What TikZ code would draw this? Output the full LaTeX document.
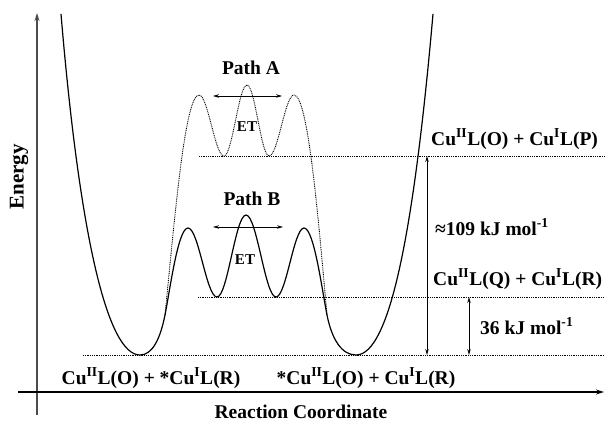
\documentclass[tikz,border=0pt]{standalone}
\usepackage{fontspec}
\setmainfont{Liberation Serif}
\usetikzlibrary{arrows.meta}
\begin{document}
\begin{tikzpicture}[x=1pt,y=-1pt,
  lbl/.style={font=\fontsize{19.5}{22}\selectfont\bfseries, inner sep=0pt},
  etlbl/.style={font=\fontsize{15}{17}\selectfont\bfseries, inner sep=0pt},
  curve/.style={line width=1.2pt, line join=round},
  dotcurve/.style={line width=0.9pt, dash pattern=on 0.9pt off 0.9pt},
  level/.style={line width=0.9pt, dash pattern=on 0.9pt off 0.9pt},
  axis/.style={line width=1.1pt, -{Stealth[length=8pt,width=5pt]}},
  dimarrow/.style={line width=0.8pt, {Stealth[length=6pt,width=3.5pt]}-{Stealth[length=6pt,width=3.5pt]}},
]
\useasboundingbox (0,0) rectangle (605,422);

% axes
\coordinate (ybot) at (37,415);
\coordinate (ytop) at (37,13);
\coordinate (xl) at (18,392);
\coordinate (xr) at (604,392);
\draw[axis, black!70] (ybot) -- (ytop);
\draw[axis] (xl) -- (xr);
\node[lbl, font=\fontsize{21}{23}\selectfont\bfseries, rotate=90] (energy) at (19,177) {Energy};
\node[lbl] (rc) at (301,412) {Reaction Coordinate};

% energy levels
\coordinate (lP0) at (199,156); \coordinate (lP1) at (605,156);
\coordinate (lQ0) at (198,297); \coordinate (lQ1) at (605,297);
\coordinate (lO0) at (83,355);  \coordinate (lO1) at (605,355);
\draw[level] (lP0) -- (lP1);
\draw[level] (lQ0) -- (lQ1);
\draw[level] (lO0) -- (lO1);

% solid potential curve (wells + path B)
\draw[curve] (61,14) .. controls (80,240) and (108,355) .. (140,355)
  .. controls (152,355) and (160,340) .. (165,315)
  .. controls (170,290) and (178,228) .. (188,228)
  .. controls (198.6,228) and (206.4,297) .. (217,297)
  .. controls (227.6,297) and (235.4,215) .. (246,215)
  .. controls (256.9,215) and (265.1,297) .. (276,297)
  .. controls (286.2,297) and (293.8,228) .. (304,228)
  .. controls (314,228) and (322,290) .. (327,315)
  .. controls (332,340) and (342,355) .. (356,355)
  .. controls (390,355) and (414,230) .. (433,14);

% dotted path A
\draw[dotcurve] (165,315) .. controls (175,215) and (185,95) .. (199,95)
  .. controls (208.1,95) and (214.9,156) .. (224,156)
  .. controls (232.4,156) and (238.6,85) .. (247,85)
  .. controls (255,85) and (261,156) .. (269,156)
  .. controls (278.1,156) and (284.9,95) .. (294,95)
  .. controls (308,95) and (318,215) .. (327,315);

% ET arrows
\coordinate (a1) at (213,96); \coordinate (a2) at (282,96);
\coordinate (b1) at (213,227); \coordinate (b2) at (283,227);
\draw[dimarrow] (a1) -- (a2);
\draw[dimarrow] (b1) -- (b2);
\node[lbl] (pathA) at (251,68) {Path A};
\node[lbl] (pathB) at (252,199) {Path B};
\node[etlbl] (etA) at (247,127) {ET};
\node[etlbl] (etB) at (245,260) {ET};

% energy gap arrows
\coordinate (g1t) at (427,156); \coordinate (g1b) at (427,355);
\coordinate (g2t) at (469,297); \coordinate (g2b) at (469,355);
\draw[dimarrow] (g1t) -- (g1b);
\draw[dimarrow] (g2t) -- (g2b);

% state labels
\node[lbl, anchor=west] (sP) at (431,139) {Cu\textsuperscript{II}L(O) + Cu\textsuperscript{I}L(P)};
\node[lbl, anchor=west] (e109) at (435,227) {≈109 kJ mol\textsuperscript{-1}};
\node[lbl, anchor=west] (sQ) at (433,279) {Cu\textsuperscript{II}L(Q) + Cu\textsuperscript{I}L(R)};
\node[lbl, anchor=west] (e36) at (480,326) {36 kJ mol\textsuperscript{-1}};
\node[lbl] (sL) at (151,378) {Cu\textsuperscript{II}L(O) + *Cu\textsuperscript{I}L(R)};
\node[lbl] (sR) at (366,378) {*Cu\textsuperscript{II}L(O) + Cu\textsuperscript{I}L(R)};
\end{tikzpicture}
\end{document}
